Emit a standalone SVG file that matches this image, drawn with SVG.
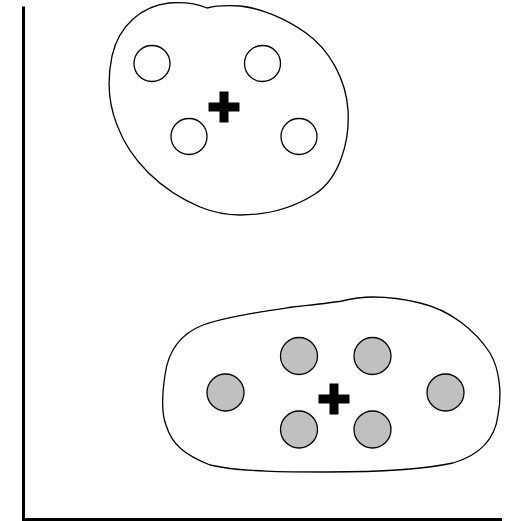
<svg xmlns="http://www.w3.org/2000/svg" width="512" height="521" viewBox="0 0 512 521">
<style>
.blob{fill:none;stroke:#000;stroke-width:1.3}
.pt{stroke:#000;stroke-width:1.3}
.open{fill:#fff}
.gray{fill:#c0c0c0}
.ctr{fill:#000}
.axis{fill:none;stroke:#000;stroke-width:3}
</style>
<rect width="512" height="521" fill="#fff"/>
<g id="axes">
<path class="axis" d="M23.5,6.5 V519.5 H502"/>
</g>
<g id="cluster-top">
<path class="blob" d="M207,8 C195,3 182,2 169,3 C142,6 119,25 112,56 C107,80 109,105 117,125 C130,160 160,190 200,207 C215,213 228,215 240,215 C265,215 290,210 315,194 C340,178 350,140 348,110 C346,80 330,50 306,33 C285,18 260,8 240,6 C225,5 215,6 207,8 Z"/>
<circle class="pt open" cx="152" cy="63.5" r="18"/>
<circle class="pt open" cx="262.5" cy="63.5" r="18"/>
<circle class="pt open" cx="189" cy="136.5" r="18"/>
<circle class="pt open" cx="299" cy="136.5" r="18"/>
<path class="ctr" d="M219.5,91.5 h9 v11 h11 v9 h-11 v11 h-9 v-11 h-11 v-9 h11 z"/>
</g>
<g id="cluster-bottom">
<path class="blob" d="M342,301 C330,303 310,305 293,307 C260,312 225,317 203,325 C180,334 168,352 165,375 C162,395 162,415 166,425 C172,445 185,455 210,465 C240,472 290,472 327,472 C370,472 420,470 453,463 C480,455 495,440 498,415 C502,395 500,370 490,353 C475,330 450,310 420,303 C400,298 385,297 373,297 C360,297 350,299 342,301 Z"/>
<circle class="pt gray" cx="225.5" cy="392.5" r="18.5"/>
<circle class="pt gray" cx="299" cy="356" r="18.5"/>
<circle class="pt gray" cx="372.5" cy="356" r="18.5"/>
<circle class="pt gray" cx="445.5" cy="392.5" r="18.5"/>
<circle class="pt gray" cx="299" cy="429.5" r="18.5"/>
<circle class="pt gray" cx="372.5" cy="429.5" r="18.5"/>
<path class="ctr" d="M329.5,383.5 h9 v11 h11 v9 h-11 v11 h-9 v-11 h-11 v-9 h11 z"/>
</g>
</svg>
